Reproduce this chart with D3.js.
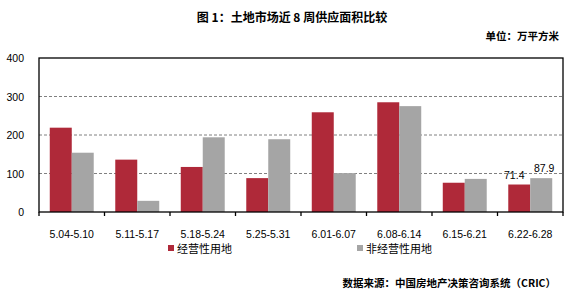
<!DOCTYPE html>
<html>
<head>
<meta charset="utf-8">
<script src="https://cdn.jsdelivr.net/npm/d3@7"></script>
<style>
  body { margin: 0; background: #fff; }
  svg { display: block; }
  text { font-family: "Liberation Sans", Arial, sans-serif; fill: #000; }
  .cjk { font-family: "Noto Sans CJK SC", sans-serif; }
</style>
</head>
<body>
<svg id="chart" width="571" height="298"></svg>
<script>
// chart values
const weeks = ["5.04-5.10", "5.11-5.17", "5.18-5.24", "5.25-5.31", "6.01-6.07", "6.08-6.14", "6.15-6.21", "6.22-6.28"];
const seriesNames = ["经营性用地", "非经营性用地"];
const commercial = [219, 136, 117, 88, 259, 285, 76, 71.4];
const nonCommercial = [154, 29, 194, 189, 101, 275, 86, 87.9];
const yTicks = [0, 100, 200, 300, 400];
const labelled = [{ week: "6.22-6.28", series: 0, text: "71.4" }, { week: "6.22-6.28", series: 1, text: "87.9" }];

const colors = ["#AF2939", "#A5A5A5"];

class SupplyVis {
    constructor(svg_id) {
        this.svg = d3.select("#" + svg_id);
        this.render();
    }

    render() {
        let svg = this.svg;
        let left = 39, right = 563, top = 58, bottom = 212;

        let x = d3.scaleBand().domain(weeks).range([left, right]);
        let xs = d3.scaleBand().domain([0, 1]).range([0, x.bandwidth()]).paddingOuter(0.49);
        let y = d3.scaleLinear().domain([0, 400]).range([bottom, top]);

        // Title and unit
        svg.append("text").attr("class", "cjk")
            .attr("x", 292).attr("y", 22)
            .attr("text-anchor", "middle")
            .style("font-size", "12px").style("font-weight", "bold")
            .text("图 1：土地市场近 8 周供应面积比较");

        svg.append("text").attr("class", "cjk")
            .attr("x", 559).attr("y", 40)
            .attr("text-anchor", "end")
            .style("font-size", "10.5px").style("font-weight", "bold")
            .text("单位：万平方米");

        // dashed gridlines
        svg.selectAll(".grid").data(yTicks.filter(d => d > 0 && d < 400)).join("line")
            .attr("class", "grid")
            .attr("x1", left).attr("x2", right)
            .attr("y1", d => y(d)).attr("y2", d => y(d))
            .style("stroke", "#808080")
            .style("stroke-dasharray", "3,2");

        // y labels
        svg.selectAll(".ylab").data(yTicks).join("text")
            .attr("class", "ylab")
            .attr("x", 24)
            .attr("y", d => y(d))
            .attr("text-anchor", "end")
            .attr("dominant-baseline", "central")
            .style("font-size", "10.5px")
            .text(d => d);

        // bars
        let rows = weeks.map((w, i) => ({ week: w, vals: [commercial[i], nonCommercial[i]] }));
        let groups = svg.selectAll(".week_g").data(rows).join("g")
            .attr("class", "week_g")
            .attr("transform", d => "translate(" + x(d.week) + ",0)");

        groups.selectAll("rect").data(d => d.vals.map((v, s) => ({ v: v, s: s }))).join("rect")
            .attr("x", d => xs(d.s))
            .attr("width", xs.bandwidth())
            .attr("y", d => y(d.v))
            .attr("height", d => y(0) - y(d.v))
            .style("fill", d => colors[d.s]);

        // value labels on last week
        svg.selectAll(".vlab").data(labelled).join("text")
            .attr("class", "vlab")
            .attr("x", d => x(d.week) + xs(d.series) + xs.bandwidth() / 2 + (d.series === 0 ? -5 : 3))
            .attr("y", d => y(d.series === 0 ? commercial[weeks.indexOf(d.week)] : nonCommercial[weeks.indexOf(d.week)]) - 6)
            .attr("text-anchor", "middle")
            .style("font-size", "10.5px")
            .text(d => d.text);

        // frame
        svg.append("rect")
            .attr("x", left).attr("y", top)
            .attr("width", right - left).attr("height", bottom - top)
            .style("fill", "none")
            .style("stroke", "#000")
            .style("stroke-width", 1.3);

        // x ticks at band edges
        let edges = weeks.map(w => x(w)).concat([right]);
        svg.selectAll(".xtick").data(edges).join("line")
            .attr("class", "xtick")
            .attr("x1", d => d).attr("x2", d => d)
            .attr("y1", bottom).attr("y2", bottom + 4)
            .style("stroke", "#000")
            .style("stroke-width", 1.3);

        svg.selectAll(".xlab").data(weeks).join("text")
            .attr("class", "xlab")
            .attr("x", d => x(d) + x.bandwidth() / 2)
            .attr("y", 234)
            .attr("text-anchor", "middle")
            .attr("dominant-baseline", "central")
            .style("font-size", "10.5px")
            .text(d => d);

        // legend
        let legendX = [168, 357];
        let legend = svg.selectAll(".leg").data(seriesNames).join("g")
            .attr("class", "leg")
            .attr("transform", (d, i) => "translate(" + legendX[i] + ",251)");
        legend.append("rect")
            .attr("x", 0).attr("y", -6)
            .attr("width", 6).attr("height", 6)
            .style("fill", (d, i) => colors[i]);
        legend.append("text").attr("class", "cjk")
            .attr("x", 9).attr("y", -3)
            .attr("dominant-baseline", "central")
            .style("font-size", "11px")
            .text(d => d);

        // source
        svg.append("text").attr("class", "cjk")
            .attr("x", 556).attr("y", 287)
            .attr("text-anchor", "end")
            .style("font-size", "10.5px").style("font-weight", "bold")
            .text("数据来源：中国房地产决策咨询系统（CRIC）");
    }
}

let vis = new SupplyVis("chart");
</script>
</body>
</html>
